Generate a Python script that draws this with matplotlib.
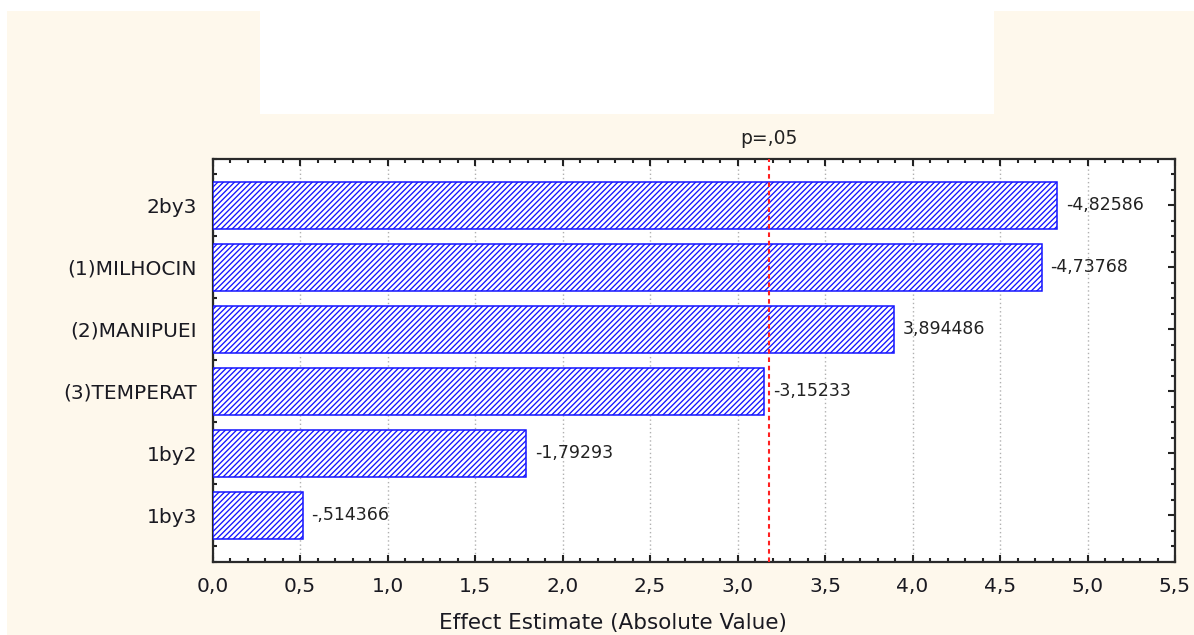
import matplotlib
matplotlib.use("Agg")
import matplotlib.pyplot as plt
from matplotlib.patches import Rectangle
from matplotlib.ticker import MultipleLocator, FuncFormatter

# Pareto chart of standardized effects
factors = ["2by3", "(1)MILHOCIN", "(2)MANIPUEI", "(3)TEMPERAT", "1by2", "1by3"]
effects = [-4.82586, -4.73768, 3.894486, -3.15233, -1.79293, -0.514366]
p_critical = 3.182
p_label = "p=,05"
x_label = "Effect Estimate (Absolute Value)"

plt.rcParams["font.family"] = ["DejaVu Sans"]
plt.rcParams["hatch.linewidth"] = 0.95

W, H = 1194, 635
fig = plt.figure(figsize=(W / 100, H / 100), dpi=100, facecolor="white")

# page background panels
cream = "#FEF8EC"
fig.patches.append(Rectangle((7 / W, 0), 1 - 7 / W, (H - 11) / H,
                             transform=fig.transFigure, facecolor=cream,
                             edgecolor="none", zorder=-10))
fig.patches.append(Rectangle((260 / W, (H - 114) / H), (994 - 260) / W, 114 / H,
                             transform=fig.transFigure, facecolor="white",
                             edgecolor="none", zorder=-9))

left, right, top, bottom = 212.5, 1175, 159, 562
ax = fig.add_axes([left / W, 1 - bottom / H, (right - left) / W, (bottom - top) / H])
ax.set_facecolor("white")

pos = list(range(len(factors)))
abs_eff = [abs(v) for v in effects]
ax.barh(pos, abs_eff, height=0.76, color="white", edgecolor="#1414ff",
        hatch="//////", linewidth=1.1, zorder=3)

ax.set_xlim(0, 5.5)
ax.set_ylim(len(factors) - 0.25, -0.75)

# value labels next to each bar
for y, v in zip(pos, effects):
    txt = str(v).replace("-0.", "-.").replace(".", ",")
    ax.annotate(txt, xy=(abs(v), y), xytext=(9 * 72 / 100, 0),
                textcoords="offset points", va="center", ha="left",
                fontsize=12.5, color="#222222", zorder=5)

# critical value line
ax.axvline(p_critical, color="#ff2020", linestyle=(0, (2.2, 1.8)),
           linewidth=1.5, zorder=4)
ax.text(p_critical, 1.0 + 11 / (bottom - top), p_label, transform=ax.get_xaxis_transform(),
        ha="center", va="bottom", fontsize=13.5, color="#222222")

# axes styling
ax.xaxis.set_major_locator(MultipleLocator(0.5))
ax.xaxis.set_minor_locator(MultipleLocator(0.1))
ax.xaxis.set_major_formatter(FuncFormatter(lambda v, _: f"{v:.1f}".replace(".", ",")))
ax.set_yticks(pos)
ax.set_yticklabels(factors)
ax.yaxis.set_minor_locator(MultipleLocator(0.25))

ax.tick_params(axis="both", which="both", direction="in", top=True, right=True,
               color="#222222")
ax.tick_params(axis="both", which="major", length=5, width=1.5, labelsize=14.5,
               labelcolor="#1a1a22")
ax.tick_params(axis="both", which="minor", length=3, width=1.5)
ax.tick_params(axis="x", which="major", pad=11)
ax.tick_params(axis="y", which="major", pad=11)

for s in ax.spines.values():
    s.set_linewidth(1.6)
    s.set_color("#2a2a2a")

ax.grid(axis="x", which="major", linestyle=(0, (1, 2)), color="#b0b0b0",
        linewidth=1.0, zorder=1)
ax.set_axisbelow(True)

fig.text(613 / W, 1 - 623 / H, x_label, ha="center", va="center",
         fontsize=15.5, color="#1a1a22")

fig.savefig("out.png", dpi=100, facecolor=fig.get_facecolor())
